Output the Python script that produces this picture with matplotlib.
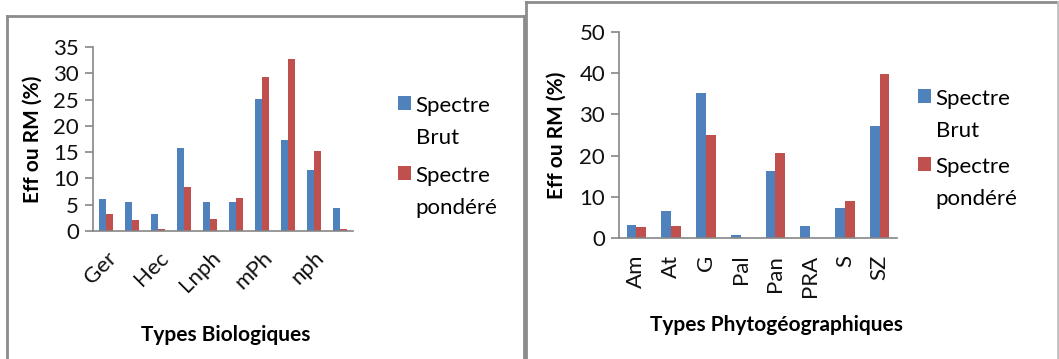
import matplotlib
matplotlib.use("Agg")
import matplotlib.pyplot as plt
from matplotlib.patches import Rectangle
from matplotlib.legend_handler import HandlerPatch
from matplotlib.container import BarContainer
from matplotlib.lines import Line2D
import numpy as np

plt.rcParams['font.family'] = ['Lato', 'DejaVu Sans']

# left chart: biological types (only every other label is shown)
bio_types = ['Ger', '', 'Hec', '', 'Lnph', '', 'mPh', '', 'nph', '']
bio_brut = [6.0, 5.5, 3.3, 15.8, 5.5, 5.5, 25.1, 17.3, 11.6, 4.3]
bio_pond = [3.3, 2.0, 0.4, 8.4, 2.3, 6.2, 29.2, 32.7, 15.2, 0.4]

# right chart: phytogeographic types
phyto_types = ['Am', 'At', 'G', 'Pal', 'Pan', 'PRA', 'S', 'SZ']
phyto_brut = [3.2, 6.6, 35.3, 0.7, 16.3, 2.9, 7.3, 27.2]
phyto_pond = [2.6, 2.9, 25.0, 0.0, 20.6, 0.0, 9.1, 39.7]

BLUE = '#4F81BD'
RED = '#C0504D'
AXC = '#868686'
W, H = 1059, 359
FS = 16

fig = plt.figure(figsize=(W / 100, H / 100), dpi=100)


def px_axes(x0, y0, x1, y1):
    return fig.add_axes([x0 / W, 1 - y1 / H, (x1 - x0) / W, (y1 - y0) / H])


# legend square sits beside the first line of the two-line label
def square(legend, orig_handle, xdescent, ydescent, width, height, fontsize):
    return Rectangle((-xdescent, -ydescent + 0.85 * fontsize), width, height)


def first_child(tgt, orig):
    tgt.update_from(orig.patches[0])


def draw(ax, cats, brut, pond, ymax, step, bw):
    x = np.arange(len(cats))
    ax.bar(x - bw / 2, brut, bw, color=BLUE, label='Spectre\nBrut')
    ax.bar(x + bw / 2, pond, bw, color=RED, label='Spectre\npondéré')
    ax.set_xlim(-0.5, len(cats) - 0.5)
    ax.set_ylim(0, ymax)
    ax.set_yticks(np.arange(0, ymax + 1, step))
    for s in ['top', 'right']:
        ax.spines[s].set_visible(False)
    for s in ['left', 'bottom']:
        ax.spines[s].set_color(AXC)
        ax.spines[s].set_linewidth(1.2)
    ax.tick_params(axis='y', length=6, width=1.2, color=AXC, pad=4,
                   labelsize=FS, labelcolor='#111111')
    ax.tick_params(axis='x', length=0, labelsize=FS, labelcolor='#111111')
    ax.set_ylabel('Eff ou RM (%)', fontsize=15, fontweight='bold', va='center')
    return x


def add_legend(ax, x0, y0, spacing):
    hm = {BarContainer: HandlerPatch(patch_func=square, update_func=first_child)}
    leg = ax.legend(loc='upper left', bbox_to_anchor=(x0 / W, 1 - y0 / H),
                    bbox_transform=fig.transFigure, frameon=False, fontsize=FS,
                    handlelength=0.6, handleheight=0.6, handletextpad=0.2,
                    labelspacing=spacing, borderpad=0, borderaxespad=0,
                    handler_map=hm)
    for t in leg.get_texts():
        t.set_linespacing(1.75)
    return leg


# left panel
ax1 = px_axes(93, 47, 353, 231)
x1 = draw(ax1, bio_types, bio_brut, bio_pond, 35, 5, 0.28)
ax1.set_xticks(x1)
ax1.set_xticklabels(bio_types, rotation=45, ha='right', va='top',
                    rotation_mode='anchor')
ax1.tick_params(axis='x', pad=12)
ax1.set_xlabel('Types Biologiques', fontsize=15, fontweight='bold', va='center')
ax1.xaxis.set_label_coords(0.51, -0.565)
ax1.yaxis.set_label_coords(-0.231, 0.5)
add_legend(ax1, 398, 96, 0.8)

# right panel
ax2 = px_axes(619, 32, 897, 238)
x2 = draw(ax2, phyto_types, phyto_brut, phyto_pond, 50, 10, 0.28)
ax2.set_xticks(x2)
ax2.set_xticklabels(phyto_types, rotation=90, ha='center', va='top')
ax2.tick_params(axis='x', pad=12)
ax2.set_xlabel('Types Phytogéographiques', fontsize=15, fontweight='bold',
               va='center')
ax2.xaxis.set_label_coords(0.565, -0.422)
ax2.yaxis.set_label_coords(-0.223, 0.5)
add_legend(ax2, 918, 89, 0.72)


# panel borders
def fline(xs, ys, color='#8c8c8c', lw=2):
    fig.add_artist(Line2D([v / W for v in xs], [1 - v / H for v in ys],
                          color=color, lw=lw, transform=fig.transFigure))


fline([7, 7], [16, H])
fline([7, 523.5], [16, 16])
fline([523.5, 523.5], [16, H])
fline([526, 1058], [1.5, 1.5])
fline([526, 526], [1.5, H])
fline([1058, 1058], [1.5, H], color='#c0c0c0')

fig.savefig('out.png', dpi=100, facecolor='white')
